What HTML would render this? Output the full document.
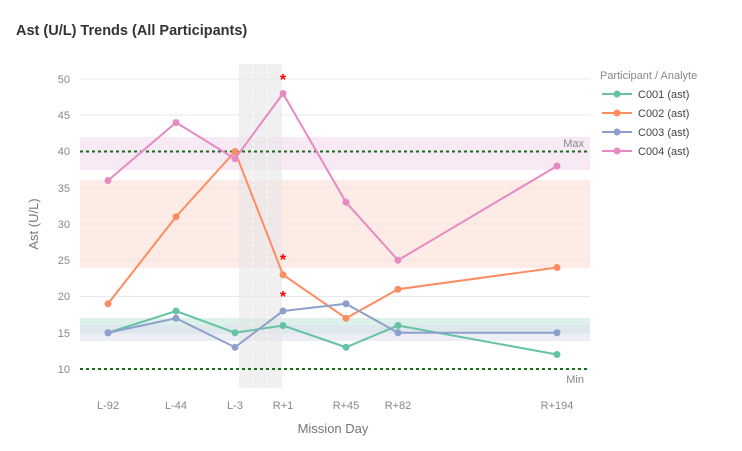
<!DOCTYPE html><html><head><style>body{margin:0;background:#fff}svg{font-family:"Liberation Sans",sans-serif}</style></head><body>
<svg width="742" height="446" xmlns="http://www.w3.org/2000/svg">
<text x="16" y="35" font-size="14.5" font-weight="bold" fill="#333">Ast (U/L) Trends (All Participants)</text>
<g stroke="#e6e9ef" stroke-width="1">
<line x1="80" x2="590" y1="79" y2="79"/><line x1="80" x2="590" y1="115" y2="115"/><line x1="80" x2="590" y1="151.5" y2="151.5"/><line x1="80" x2="590" y1="188" y2="188"/><line x1="80" x2="590" y1="224" y2="224"/><line x1="80" x2="590" y1="260" y2="260"/><line x1="80" x2="590" y1="296.5" y2="296.5"/><line x1="80" x2="590" y1="333" y2="333"/><line x1="80" x2="590" y1="369" y2="369"/>
</g>
<rect x="80" y="137" width="510" height="33" fill="#f3dcef" opacity="0.6"/>
<rect x="80" y="180" width="510" height="88" fill="#fbdcd2" opacity="0.55"/>
<rect x="80" y="318" width="510" height="15" fill="#cfe9df" opacity="0.7"/>
<rect x="80" y="325" width="510" height="16" fill="#dfe3ee" opacity="0.6"/>
<rect x="239" y="64" width="43" height="324" fill="#e6e6e6" opacity="0.6"/>
<line x1="253" x2="253" y1="64" y2="388" stroke="#fff" stroke-dasharray="3,3"/>
<line x1="267" x2="267" y1="64" y2="388" stroke="#fff" stroke-dasharray="3,3"/>
<line x1="80" x2="590" y1="151.5" y2="151.5" stroke="#1a6e1a" stroke-width="2" stroke-dasharray="3,3"/>
<line x1="80" x2="590" y1="369" y2="369" stroke="#1a6e1a" stroke-width="2" stroke-dasharray="3,3"/>
<text x="584" y="147" font-size="11" fill="#888" text-anchor="end">Max</text>
<text x="584" y="383" font-size="11" fill="#888" text-anchor="end">Min</text>
<g font-size="11" fill="#888" text-anchor="end">
<text x="70" y="83">50</text><text x="70" y="119">45</text><text x="70" y="155">40</text><text x="70" y="192">35</text><text x="70" y="228">30</text><text x="70" y="264">25</text><text x="70" y="300">20</text><text x="70" y="337">15</text><text x="70" y="373">10</text>
</g>
<g font-size="11" fill="#888" text-anchor="middle">
<text x="108" y="409">L-92</text><text x="176" y="409">L-44</text><text x="235" y="409">L-3</text><text x="283" y="409">R+1</text><text x="346" y="409">R+45</text><text x="398" y="409">R+82</text><text x="557" y="409">R+194</text>
</g>
<text x="333" y="433" font-size="13" fill="#777" text-anchor="middle">Mission Day</text>
<text x="38" y="224" font-size="13" fill="#777" text-anchor="middle" transform="rotate(-90 38 224)">Ast (U/L)</text>
<g fill="none" stroke-width="2">
<polyline stroke="#66c2a5" points="108,332.75 176,311 235,332.75 283,325.5 346,347.25 398,325.5 557,354.5"/>
<polyline stroke="#fc8d62" points="108,303.75 176,216.75 235,151.5 283,274.75 346,318.25 398,289.25 557,267.5"/>
<polyline stroke="#8da0cb" points="108,332.75 176,318.25 235,347.25 283,311 346,303.75 398,332.75 557,332.75"/>
<polyline stroke="#e78ac3" points="108,180.5 176,122.5 235,158.75 283,93.5 346,202.25 398,260.25 557,166"/>
</g>
<g fill="#66c2a5"><circle cx="108" cy="332.75" r="3.5"/><circle cx="176" cy="311" r="3.5"/><circle cx="235" cy="332.75" r="3.5"/><circle cx="283" cy="325.5" r="3.5"/><circle cx="346" cy="347.25" r="3.5"/><circle cx="398" cy="325.5" r="3.5"/><circle cx="557" cy="354.5" r="3.5"/></g>
<g fill="#fc8d62"><circle cx="108" cy="303.75" r="3.5"/><circle cx="176" cy="216.75" r="3.5"/><circle cx="235" cy="151.5" r="3.5"/><circle cx="283" cy="274.75" r="3.5"/><circle cx="346" cy="318.25" r="3.5"/><circle cx="398" cy="289.25" r="3.5"/><circle cx="557" cy="267.5" r="3.5"/></g>
<g fill="#8da0cb"><circle cx="108" cy="332.75" r="3.5"/><circle cx="176" cy="318.25" r="3.5"/><circle cx="235" cy="347.25" r="3.5"/><circle cx="283" cy="311" r="3.5"/><circle cx="346" cy="303.75" r="3.5"/><circle cx="398" cy="332.75" r="3.5"/><circle cx="557" cy="332.75" r="3.5"/></g>
<g fill="#e78ac3"><circle cx="108" cy="180.5" r="3.5"/><circle cx="176" cy="122.5" r="3.5"/><circle cx="235" cy="158.75" r="3.5"/><circle cx="283" cy="93.5" r="3.5"/><circle cx="346" cy="202.25" r="3.5"/><circle cx="398" cy="260.25" r="3.5"/><circle cx="557" cy="166" r="3.5"/></g>
<g fill="red" font-size="16" font-weight="bold" text-anchor="middle">
<text x="283" y="85">*</text><text x="283" y="265">*</text><text x="283" y="302">*</text>
</g>
<text x="600" y="79" font-size="11" fill="#888">Participant / Analyte</text>
<g stroke-width="2">
<line x1="602" x2="632" y1="94" y2="94" stroke="#66c2a5"/><circle cx="617" cy="94" r="3.5" fill="#66c2a5"/>
<line x1="602" x2="632" y1="113" y2="113" stroke="#fc8d62"/><circle cx="617" cy="113" r="3.5" fill="#fc8d62"/>
<line x1="602" x2="632" y1="132" y2="132" stroke="#8da0cb"/><circle cx="617" cy="132" r="3.5" fill="#8da0cb"/>
<line x1="602" x2="632" y1="151" y2="151" stroke="#e78ac3"/><circle cx="617" cy="151" r="3.5" fill="#e78ac3"/>
</g>
<g font-size="11" fill="#444">
<text x="638" y="98">C001 (ast)</text><text x="638" y="117">C002 (ast)</text><text x="638" y="136">C003 (ast)</text><text x="638" y="155">C004 (ast)</text>
</g>
</svg></body></html>
